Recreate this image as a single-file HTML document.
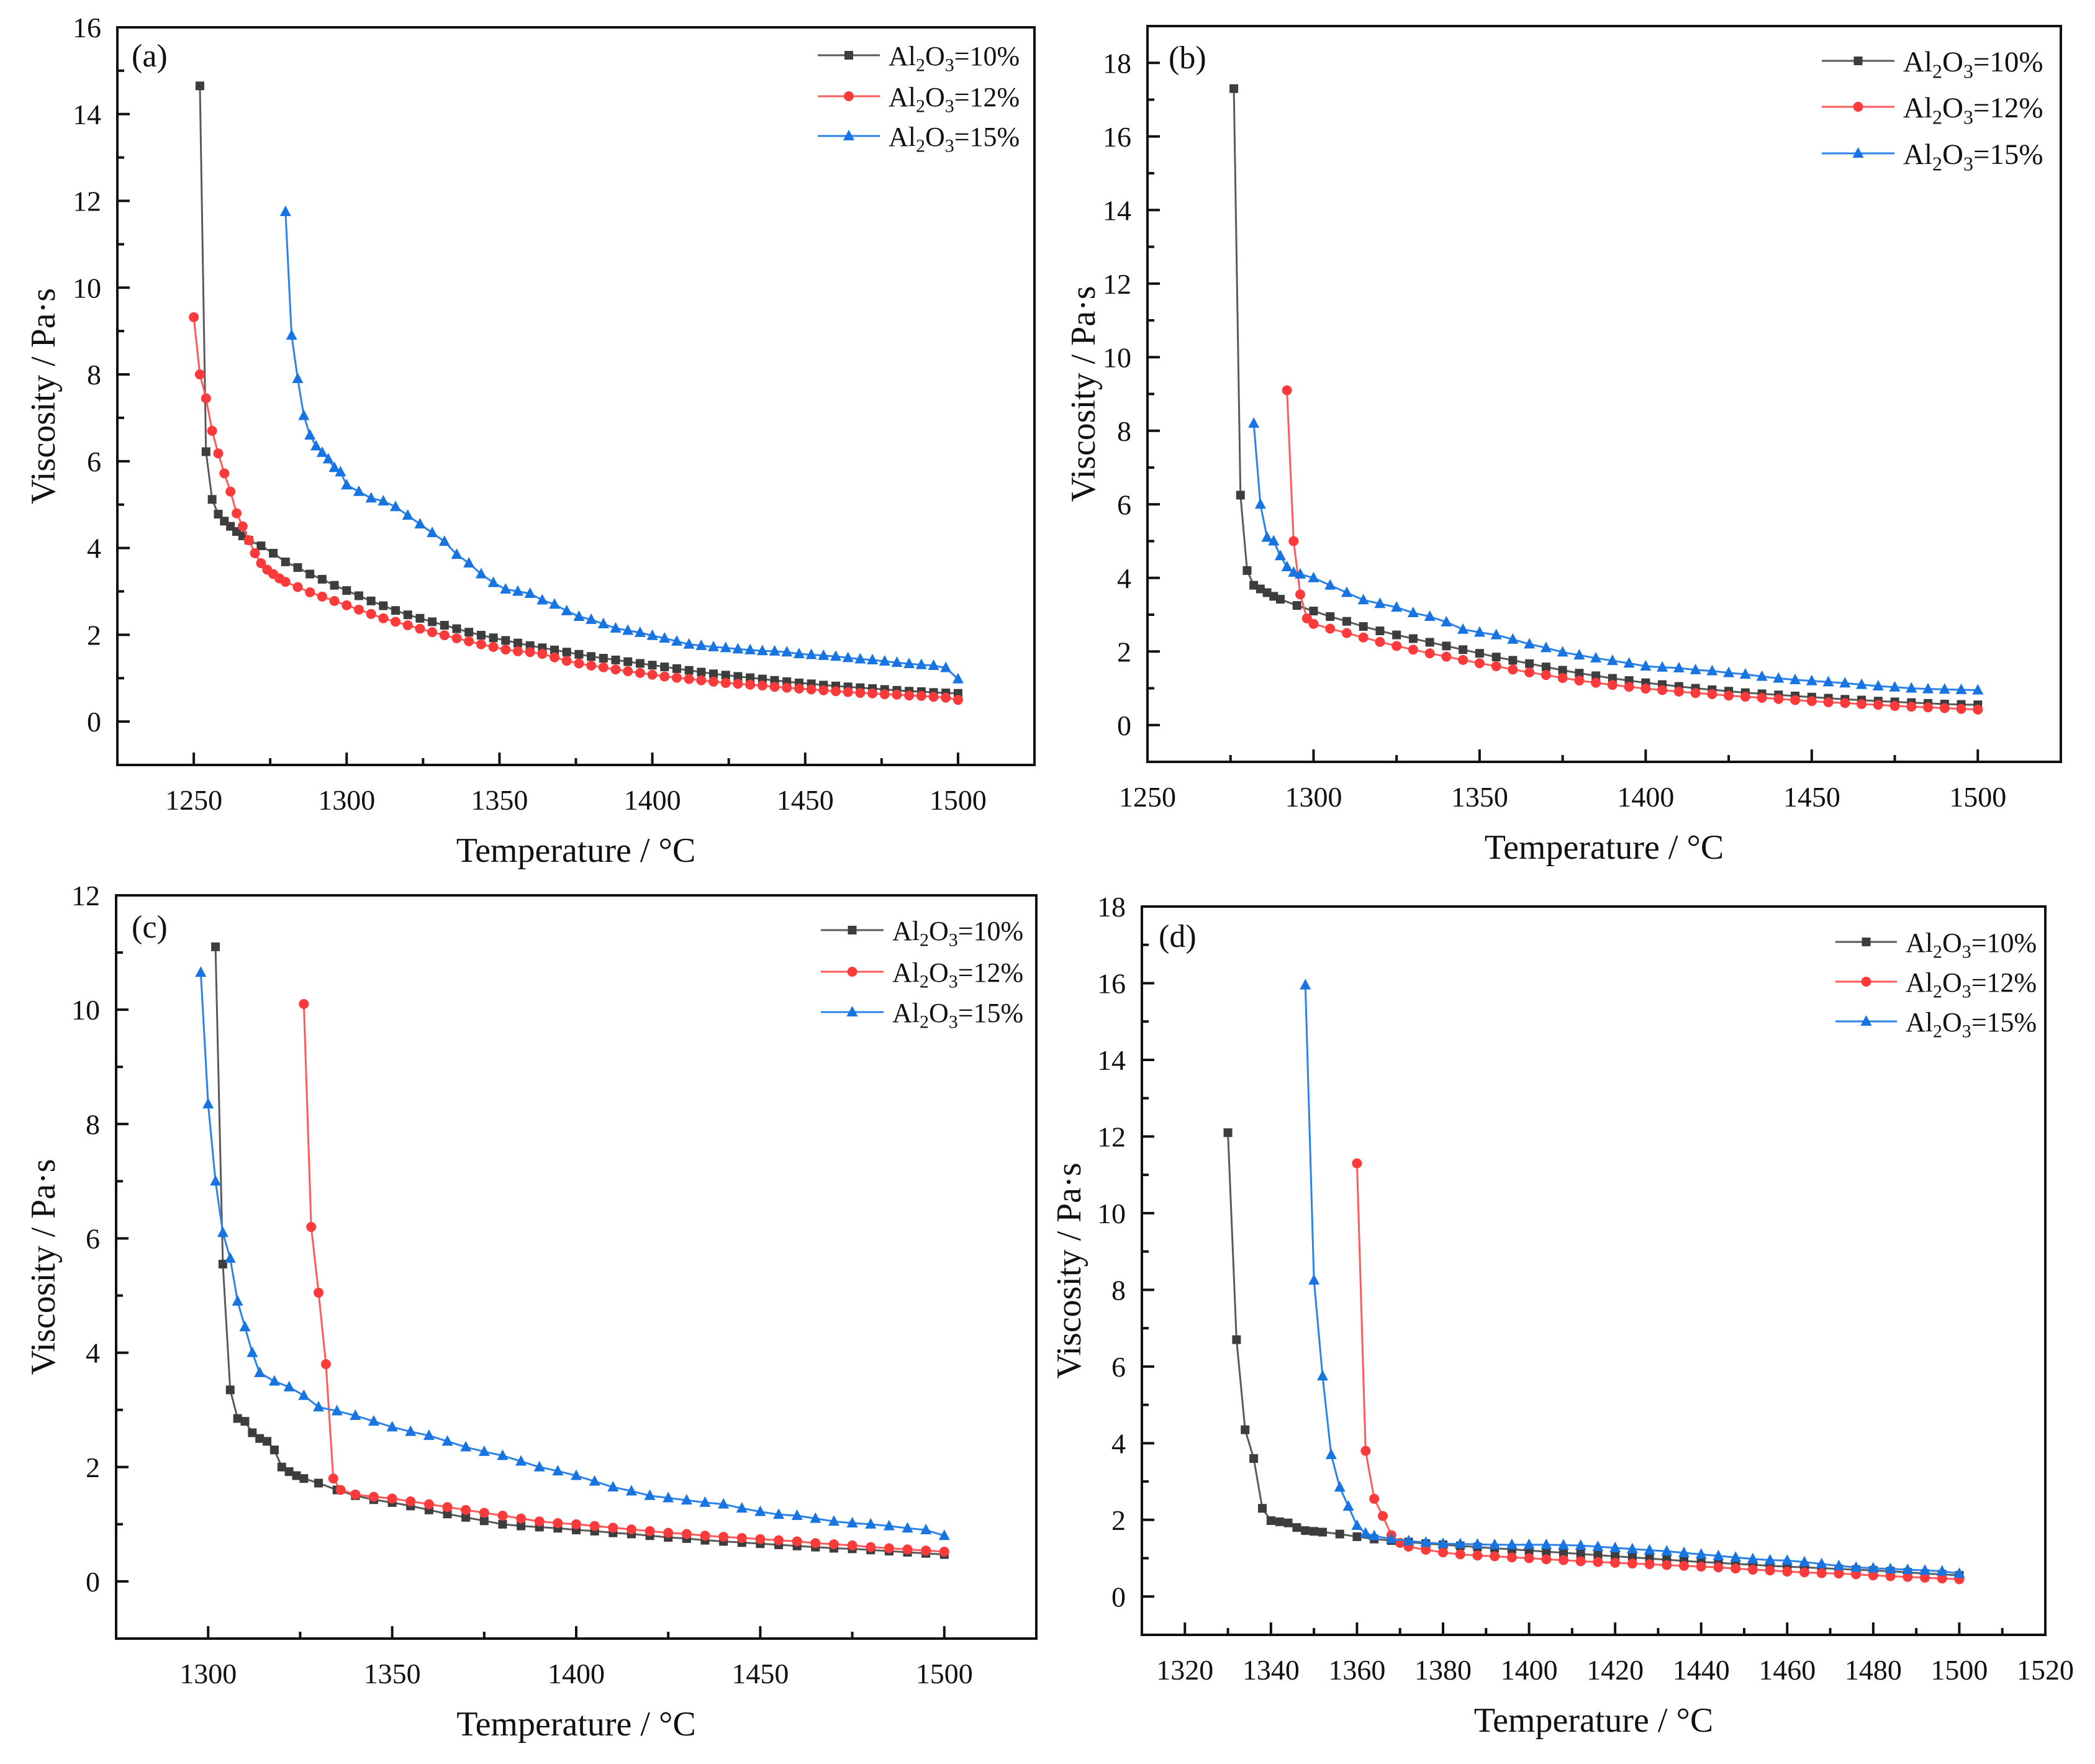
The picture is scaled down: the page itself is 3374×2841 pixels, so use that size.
<!DOCTYPE html>
<html><head><meta charset="utf-8"><style>
html,body{margin:0;padding:0;background:#fff}
svg{display:block}
text{font-family:"Liberation Serif",serif;fill:#111}
</style></head><body>
<svg id="fig" xmlns="http://www.w3.org/2000/svg" width="3374" height="2841" viewBox="0 0 3374 2841" font-family="Liberation Serif, serif"></svg>
<script>
// ---------- data (temperature °C, viscosity Pa·s) ----------
const seriesNames = ["Al2O3=10%","Al2O3=12%","Al2O3=15%"];
const aBlack=[[1252,14.65],[1254,6.22],[1256,5.12],[1258,4.78],[1260,4.62],[1262,4.5],[1264,4.38],[1266,4.28],[1268,4.18],[1272,4.05],[1276,3.88],[1280,3.68],[1284,3.55],[1288,3.4],[1292,3.28],[1296,3.14],[1300,3.02],[1304,2.9],[1308,2.78],[1312,2.67],[1316,2.56],[1320,2.46],[1324,2.38],[1328,2.3],[1332,2.22],[1336,2.14],[1340,2.06],[1344,1.99],[1348,1.93],[1352,1.87],[1356,1.81],[1360,1.75],[1364,1.7],[1368,1.65],[1372,1.6],[1376,1.55],[1380,1.5],[1384,1.46],[1388,1.42],[1392,1.38],[1396,1.34],[1400,1.3],[1404,1.26],[1408,1.22],[1412,1.18],[1416,1.14],[1420,1.1],[1424,1.07],[1428,1.04],[1432,1.01],[1436,0.98],[1440,0.95],[1444,0.92],[1448,0.89],[1452,0.87],[1456,0.84],[1460,0.82],[1464,0.8],[1468,0.78],[1472,0.76],[1476,0.74],[1480,0.72],[1484,0.7],[1488,0.69],[1492,0.67],[1496,0.66],[1500,0.65]];
const aRed=[[1250,9.32],[1252,8.0],[1254,7.45],[1256,6.7],[1258,6.18],[1260,5.72],[1262,5.3],[1264,4.8],[1266,4.5],[1268,4.18],[1270,3.88],[1272,3.65],[1274,3.5],[1276,3.4],[1278,3.3],[1280,3.22],[1284,3.1],[1288,2.98],[1292,2.88],[1296,2.78],[1300,2.68],[1304,2.58],[1308,2.48],[1312,2.38],[1316,2.3],[1320,2.22],[1324,2.14],[1328,2.06],[1332,1.99],[1336,1.92],[1340,1.85],[1344,1.78],[1348,1.72],[1352,1.66],[1356,1.62],[1360,1.6],[1364,1.56],[1368,1.48],[1372,1.4],[1376,1.34],[1380,1.29],[1384,1.25],[1388,1.2],[1392,1.16],[1396,1.12],[1400,1.08],[1404,1.04],[1408,1.01],[1412,0.98],[1416,0.95],[1420,0.92],[1424,0.89],[1428,0.87],[1432,0.85],[1436,0.83],[1440,0.8],[1444,0.78],[1448,0.76],[1452,0.74],[1456,0.72],[1460,0.7],[1464,0.68],[1468,0.66],[1472,0.65],[1476,0.63],[1480,0.62],[1484,0.6],[1488,0.59],[1492,0.57],[1496,0.55],[1500,0.5]];
const aBlue=[[1280,11.75],[1282,8.9],[1284,7.9],[1286,7.05],[1288,6.6],[1290,6.35],[1292,6.2],[1294,6.05],[1296,5.85],[1298,5.75],[1300,5.45],[1304,5.3],[1308,5.15],[1312,5.08],[1316,4.95],[1320,4.75],[1324,4.55],[1328,4.35],[1332,4.15],[1336,3.85],[1340,3.65],[1344,3.4],[1348,3.2],[1352,3.05],[1356,3.0],[1360,2.95],[1364,2.8],[1368,2.7],[1372,2.55],[1376,2.42],[1380,2.35],[1384,2.25],[1388,2.15],[1392,2.1],[1396,2.05],[1400,1.98],[1404,1.92],[1408,1.85],[1412,1.78],[1416,1.75],[1420,1.72],[1424,1.7],[1428,1.67],[1432,1.65],[1436,1.63],[1440,1.62],[1444,1.6],[1448,1.56],[1452,1.54],[1456,1.52],[1460,1.5],[1464,1.47],[1468,1.44],[1472,1.42],[1476,1.39],[1480,1.36],[1484,1.33],[1488,1.31],[1492,1.29],[1496,1.24],[1500,0.98]];
const bBlack=[[1276,17.3],[1278,6.25],[1280,4.2],[1282,3.8],[1284,3.7],[1286,3.6],[1288,3.5],[1290,3.42],[1295,3.25],[1300,3.1],[1305,2.95],[1310,2.82],[1315,2.68],[1320,2.56],[1325,2.45],[1330,2.35],[1335,2.25],[1340,2.15],[1345,2.05],[1350,1.95],[1355,1.85],[1360,1.76],[1365,1.67],[1370,1.58],[1375,1.49],[1380,1.41],[1385,1.34],[1390,1.27],[1395,1.21],[1400,1.15],[1405,1.1],[1410,1.05],[1415,1.0],[1420,0.96],[1425,0.92],[1430,0.88],[1435,0.85],[1440,0.82],[1445,0.79],[1450,0.76],[1455,0.73],[1460,0.7],[1465,0.68],[1470,0.65],[1475,0.63],[1480,0.61],[1485,0.59],[1490,0.57],[1495,0.56],[1500,0.55]];
const bRed=[[1292,9.1],[1294,5.0],[1296,3.55],[1298,2.9],[1300,2.75],[1305,2.62],[1310,2.5],[1315,2.38],[1320,2.26],[1325,2.15],[1330,2.05],[1335,1.95],[1340,1.86],[1345,1.77],[1350,1.68],[1355,1.6],[1360,1.51],[1365,1.43],[1370,1.36],[1375,1.28],[1380,1.21],[1385,1.15],[1390,1.09],[1395,1.04],[1400,0.99],[1405,0.95],[1410,0.91],[1415,0.87],[1420,0.84],[1425,0.8],[1430,0.77],[1435,0.74],[1440,0.71],[1445,0.68],[1450,0.65],[1455,0.62],[1460,0.6],[1465,0.57],[1470,0.55],[1475,0.52],[1480,0.5],[1485,0.48],[1490,0.46],[1495,0.44],[1500,0.42]];
const bBlue=[[1282,8.2],[1284,6.0],[1286,5.1],[1288,5.0],[1290,4.6],[1292,4.3],[1294,4.15],[1296,4.1],[1300,4.0],[1305,3.8],[1310,3.6],[1315,3.4],[1320,3.3],[1325,3.2],[1330,3.05],[1335,2.95],[1340,2.8],[1345,2.6],[1350,2.52],[1355,2.45],[1360,2.33],[1365,2.2],[1370,2.1],[1375,1.98],[1380,1.9],[1385,1.82],[1390,1.75],[1395,1.68],[1400,1.6],[1405,1.57],[1410,1.55],[1415,1.5],[1420,1.47],[1425,1.42],[1430,1.38],[1435,1.32],[1440,1.27],[1445,1.23],[1450,1.2],[1455,1.17],[1460,1.14],[1465,1.1],[1470,1.06],[1475,1.03],[1480,1.0],[1485,0.98],[1490,0.97],[1495,0.96],[1500,0.95]];
const cBlack=[[1302,11.1],[1304,5.55],[1306,3.35],[1308,2.85],[1310,2.8],[1312,2.6],[1314,2.5],[1316,2.45],[1318,2.3],[1320,2.0],[1322,1.92],[1324,1.85],[1326,1.8],[1330,1.72],[1335,1.6],[1340,1.5],[1345,1.43],[1350,1.38],[1355,1.32],[1360,1.25],[1365,1.18],[1370,1.12],[1375,1.06],[1380,1.0],[1385,0.97],[1390,0.95],[1395,0.93],[1400,0.9],[1405,0.88],[1410,0.85],[1415,0.83],[1420,0.8],[1425,0.77],[1430,0.75],[1435,0.72],[1440,0.7],[1445,0.68],[1450,0.66],[1455,0.64],[1460,0.62],[1465,0.6],[1470,0.58],[1475,0.57],[1480,0.55],[1485,0.53],[1490,0.51],[1495,0.49],[1500,0.47]];
const cRed=[[1326,10.1],[1328,6.2],[1330,5.05],[1332,3.8],[1334,1.8],[1336,1.6],[1340,1.52],[1345,1.48],[1350,1.45],[1355,1.4],[1360,1.35],[1365,1.3],[1370,1.25],[1375,1.2],[1380,1.15],[1385,1.1],[1390,1.05],[1395,1.02],[1400,1.0],[1405,0.97],[1410,0.94],[1415,0.91],[1420,0.88],[1425,0.85],[1430,0.83],[1435,0.8],[1440,0.78],[1445,0.76],[1450,0.74],[1455,0.72],[1460,0.7],[1465,0.67],[1470,0.65],[1475,0.63],[1480,0.6],[1485,0.58],[1490,0.56],[1495,0.54],[1500,0.52]];
const cBlue=[[1298,10.65],[1300,8.35],[1302,7.0],[1304,6.1],[1306,5.65],[1308,4.9],[1310,4.45],[1312,4.0],[1314,3.65],[1318,3.5],[1322,3.4],[1326,3.25],[1330,3.05],[1335,2.98],[1340,2.9],[1345,2.8],[1350,2.7],[1355,2.62],[1360,2.55],[1365,2.45],[1370,2.35],[1375,2.27],[1380,2.2],[1385,2.1],[1390,2.0],[1395,1.93],[1400,1.85],[1405,1.75],[1410,1.65],[1415,1.58],[1420,1.5],[1425,1.46],[1430,1.42],[1435,1.38],[1440,1.35],[1445,1.28],[1450,1.22],[1455,1.17],[1460,1.15],[1465,1.1],[1470,1.05],[1475,1.02],[1480,1.0],[1485,0.97],[1490,0.93],[1495,0.9],[1500,0.8]];
const dBlack=[[1330,12.1],[1332,6.7],[1334,4.35],[1336,3.6],[1338,2.3],[1340,1.98],[1342,1.95],[1344,1.92],[1346,1.8],[1348,1.72],[1350,1.7],[1352,1.68],[1356,1.63],[1360,1.56],[1364,1.5],[1368,1.46],[1372,1.42],[1376,1.38],[1380,1.35],[1384,1.32],[1388,1.29],[1392,1.26],[1396,1.23],[1400,1.2],[1404,1.17],[1408,1.14],[1412,1.11],[1416,1.08],[1420,1.05],[1424,1.02],[1428,0.99],[1432,0.96],[1436,0.93],[1440,0.9],[1444,0.88],[1448,0.85],[1452,0.83],[1456,0.8],[1460,0.78],[1464,0.76],[1468,0.74],[1472,0.72],[1476,0.7],[1480,0.68],[1484,0.66],[1488,0.63],[1492,0.6],[1496,0.58],[1500,0.55]];
const dRed=[[1360,11.3],[1362,3.8],[1364,2.55],[1366,2.1],[1368,1.6],[1370,1.4],[1372,1.3],[1376,1.22],[1380,1.15],[1384,1.1],[1388,1.07],[1392,1.05],[1396,1.02],[1400,1.0],[1404,0.97],[1408,0.95],[1412,0.92],[1416,0.9],[1420,0.88],[1424,0.86],[1428,0.84],[1432,0.82],[1436,0.8],[1440,0.78],[1444,0.76],[1448,0.73],[1452,0.7],[1456,0.68],[1460,0.65],[1464,0.63],[1468,0.61],[1472,0.6],[1476,0.58],[1480,0.55],[1484,0.53],[1488,0.51],[1492,0.49],[1496,0.47],[1500,0.45]];
const dBlue=[[1348,15.95],[1350,8.25],[1352,5.75],[1354,3.7],[1356,2.85],[1358,2.35],[1360,1.85],[1362,1.65],[1364,1.58],[1368,1.5],[1372,1.45],[1376,1.41],[1380,1.38],[1384,1.37],[1388,1.36],[1392,1.35],[1396,1.35],[1400,1.35],[1404,1.35],[1408,1.34],[1412,1.33],[1416,1.3],[1420,1.27],[1424,1.24],[1428,1.21],[1432,1.18],[1436,1.14],[1440,1.1],[1444,1.06],[1448,1.02],[1452,0.98],[1456,0.95],[1460,0.94],[1464,0.9],[1468,0.85],[1472,0.8],[1476,0.76],[1480,0.74],[1484,0.72],[1488,0.7],[1492,0.68],[1496,0.66],[1500,0.6]];
const xTicksA=[1250,1300,1350,1400,1450,1500];
const xTicksB=[1250,1300,1350,1400,1450,1500];
const xTicksC=[1300,1350,1400,1450,1500];
const xTicksD=[1320,1340,1360,1380,1400,1420,1440,1460,1480,1500,1520];
const yTicksA=[0,2,4,6,8,10,12,14,16];
const yTicksB=[0,2,4,6,8,10,12,14,16,18];
const yTicksC=[0,2,4,6,8,10,12];
const yTicksD=[0,2,4,6,8,10,12,14,16,18];

// ---------- layout ----------
const NS="http://www.w3.org/2000/svg";
const svg=document.getElementById('fig');
const colors=["#3d3d3d","#fb3b3b","#1874e0"];
const lineColors=["#5a5a5a","#ff5a5a","#2a82ea"];
const panels=[
 {id:'a',L:189,T:44,R:1666,B:1232,x0:1225,x1:1525,y0:-1,y1:16,xt:xTicksA,xm:25,yt:yTicksA,series:[aBlack,aRed,aBlue],lx:1317,lt:1431,ly:[89,155,219],fs:44,tag:[212,107],ytx:70},
 {id:'b',L:1848,T:42,R:3319,B:1227,x0:1250,x1:1525,y0:-1,y1:19,xt:xTicksB,xm:25,yt:yTicksB,series:[bBlack,bRed,bBlue],lx:2934,lt:3065,ly:[98,172,247],fs:47,tag:[1882,110],ytx:1745},
 {id:'c',L:187,T:1442,R:1669,B:2639,x0:1275,x1:1525,y0:-1,y1:12,xt:xTicksC,xm:25,yt:yTicksC,series:[cBlack,cRed,cBlue],lx:1322,lt:1437,ly:[1498,1565,1630],fs:44,tag:[212,1510],ytx:70},
 {id:'d',L:1839,T:1460,R:3294,B:2633,x0:1310,x1:1520,y0:-1,y1:18,xt:xTicksD,xm:10,yt:yTicksD,series:[dBlack,dRed,dBlue],lx:2956,lt:3069,ly:[1517,1581,1645],fs:44,tag:[1866,1525],ytx:1722}
];
function el(tag,attrs,parent){const e=document.createElementNS(NS,tag);for(const k in attrs)e.setAttribute(k,attrs[k]);(parent||svg).appendChild(e);return e;}
function marker(g,k,x,y){
  let m;
  if(k===0){m=el('rect',{x:x-7,y:y-7,width:14,height:14,fill:colors[0]},g);}
  else if(k===1){m=el('circle',{cx:x,cy:y,r:8,fill:colors[1]},g);}
  else {m=el('polygon',{points:`${x},${y-10} ${x-9},${y+7} ${x+9},${y+7}`,fill:colors[2]},g);}
  
  
}
function legendText(g,x,y,s,name,fs){
  const t=el('text',{x:x,y:y+fs*0.36,'font-size':fs},g);
  
  
  const parts=s.match(/^Al2O3(=.*)$/);
  t.appendChild(document.createTextNode('Al'));
  el('tspan',{'font-size':fs*0.68,dy:fs*0.22},t).textContent='2';
  el('tspan',{dy:-fs*0.22},t).textContent='O';
  el('tspan',{'font-size':fs*0.68,dy:fs*0.22},t).textContent='3';
  el('tspan',{dy:-fs*0.22},t).textContent=parts[1];
}
panels.forEach(p=>{
  const g=el('g',{});
  
  
  const sx=v=>p.L+(v-p.x0)/(p.x1-p.x0)*(p.R-p.L);
  const sy=v=>p.B-(v-p.y0)/(p.y1-p.y0)*(p.B-p.T);
  p.series.forEach((s,k)=>{
    const sg=el('g',{},g);
    
    
    const pl=el('polyline',{points:s.map(d=>sx(d[0])+','+sy(d[1])).join(' '),fill:'none',stroke:lineColors[k],'stroke-width':3},sg);
    
    
    s.forEach(d=>marker(sg,k,sx(d[0]),sy(d[1])));
  });
  const fr=el('rect',{x:p.L,y:p.T,width:p.R-p.L,height:p.B-p.T,fill:'none',stroke:'#111','stroke-width':4},g);
  
  
  for(let v=Math.ceil(p.x0/p.xm)*p.xm; v<=p.x1; v+=p.xm){
    const major=p.xt.includes(v);
    const x=sx(v);
    if(x<=p.L+2||x>=p.R-2) continue;
    const tk=el('line',{x1:x,x2:x,y1:p.B,y2:p.B-(major?20:11),stroke:'#111','stroke-width':4},g);
    
    
  }
  p.xt.forEach(v=>{
    const t=el('text',{x:sx(v),y:p.B+72,'font-size':46,'text-anchor':'middle'},g);
    t.textContent=v;
    
    
  });
  for(let v=p.y0+1; v<p.y1; v+=1){
    const major=p.yt.includes(v);
    const y=sy(v);
    const tk=el('line',{x1:p.L,x2:p.L+(major?20:11),y1:y,y2:y,stroke:'#111','stroke-width':4},g);
    
    
  }
  p.yt.forEach(v=>{
    const t=el('text',{x:p.L-26,y:sy(v)+16,'font-size':46,'text-anchor':'end'},g);
    t.textContent=v;
    
    
  });
  const xt=el('text',{x:(p.L+p.R)/2,y:p.B+156,'font-size':56,'text-anchor':'middle'},g);
  xt.textContent='Temperature / °C';
  
  
  const ym=(p.T+p.B)/2;
  const yt=el('text',{x:p.ytx,y:ym,'font-size':56,'text-anchor':'middle',transform:`rotate(-90 ${p.ytx} ${ym})`,dy:18},g);
  yt.textContent='Viscosity / Pa·s';
  
  
  const tag=el('text',{x:p.tag[0],y:p.tag[1],'font-size':52},g);
  tag.textContent='('+p.id+')';
  
  
  const lg=el('g',{},g);
  
  
  seriesNames.forEach((s,k)=>{
    const y=p.ly[k];
    const ln=el('line',{x1:p.lx,x2:p.lt-14,y1:y,y2:y,stroke:lineColors[k],'stroke-width':3},lg);
    
    
    marker(lg,k,(p.lx+p.lt-14)/2,y);
    legendText(lg,p.lt,y,s,'legend-entry',p.fs);
  });
});
</script>
</body></html>
